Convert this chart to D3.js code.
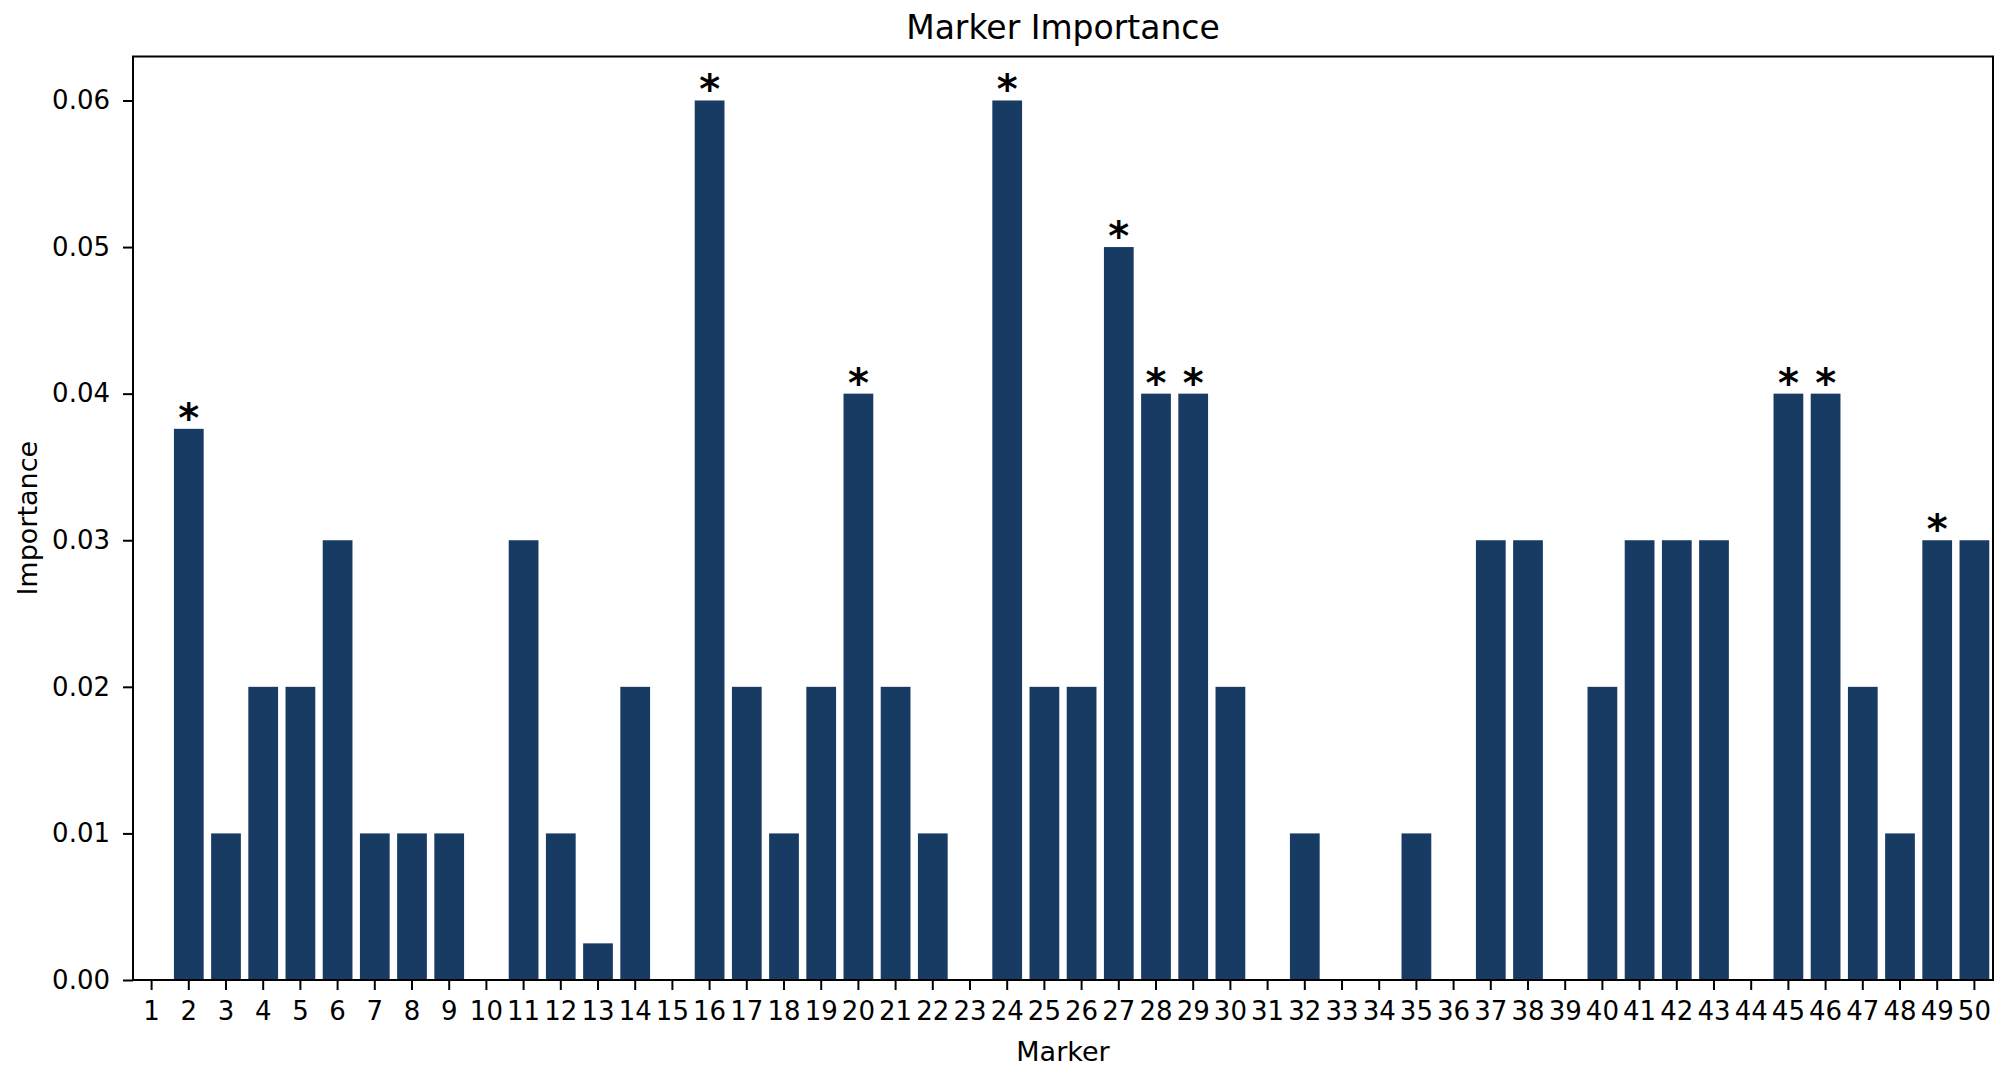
<html>
  <meta charset="utf-8" />
  <script src="https://d3js.org/d3.v7.min.js"></script>
  <style>
    body { margin: 0; background: #fff; }
    text { font-family: "DejaVu Sans", sans-serif; fill: #000; }
  </style>
  <body>
    <svg width="2008" height="1069" id="chart"></svg>
    <script>
      // marker ids 1..50
      const markers = d3.range(1, 51).map(String);
      const importance = [
        0, 0.0376, 0.01, 0.02, 0.02, 0.03, 0.01, 0.01, 0.01, 0,
        0.03, 0.01, 0.0025, 0.02, 0, 0.06, 0.02, 0.01, 0.02, 0.04,
        0.02, 0.01, 0, 0.06, 0.02, 0.02, 0.05, 0.04, 0.04, 0.02,
        0, 0.01, 0, 0, 0.01, 0, 0.03, 0.03, 0, 0.02,
        0.03, 0.03, 0.03, 0, 0.04, 0.04, 0.02, 0.01, 0.03, 0.03
      ];
      const significant = ["2", "16", "20", "24", "27", "28", "29", "45", "46", "49"];
      const yTicks = [0, 0.01, 0.02, 0.03, 0.04, 0.05, 0.06];

      const data = markers.map((m, i) => ({ marker: m, value: importance[i] }));

      const margin = { top: 56.5, right: 15, bottom: 89, left: 133 };
      const width = 2008 - margin.left - margin.right;
      const height = 1069 - margin.top - margin.bottom;

      const svg = d3.select("#chart");
      const chart = svg
        .append("g")
        .attr("transform", `translate(${margin.left}, ${margin.top})`);

      const xScale = d3
        .scaleBand()
        .domain(markers)
        .range([0, width])
        .paddingInner(0.2)
        .paddingOuter(0.1);

      const yScale = d3.scaleLinear().domain([0, 0.063]).range([height, 0]);

      chart
        .selectAll(".bar")
        .data(data)
        .enter()
        .append("rect")
        .attr("class", "bar")
        .attr("x", (d) => xScale(d.marker))
        .attr("y", (d) => yScale(d.value))
        .attr("width", xScale.bandwidth())
        .attr("height", (d) => yScale(0) - yScale(d.value))
        .attr("fill", "#173b63");

      // stars over significant markers
      chart
        .selectAll(".star")
        .data(data.filter((d) => significant.includes(d.marker)))
        .enter()
        .append("text")
        .attr("class", "star")
        .attr("x", (d) => xScale(d.marker) + xScale.bandwidth() / 2)
        .attr("y", (d) => yScale(d.value) + 3)
        .attr("text-anchor", "middle")
        .style("font-size", "40px")
        .style("font-weight", "bold")
        .text("*");

      const xAxis = chart
        .append("g")
        .attr("transform", `translate(0, ${height})`)
        .call(d3.axisBottom(xScale).tickSize(10).tickPadding(12));

      const yAxis = chart
        .append("g")
        .call(
          d3
            .axisLeft(yScale)
            .tickValues(yTicks)
            .tickFormat(d3.format(".2f"))
            .tickSize(10)
            .tickPadding(13)
        );

      [xAxis, yAxis].forEach((ax) => {
        ax.select(".domain").remove();
        ax.selectAll("line").attr("stroke", "#000").attr("stroke-width", 2);
        ax.selectAll("text").style("font-size", "26px").attr("fill", "#000");
      });

      // frame
      chart
        .append("rect")
        .attr("width", width)
        .attr("height", height)
        .attr("fill", "none")
        .attr("stroke", "#000")
        .attr("stroke-width", 2);

      svg
        .append("text")
        .attr("x", margin.left + width / 2)
        .attr("y", 39)
        .attr("text-anchor", "middle")
        .style("font-size", "33px")
        .text("Marker Importance");

      svg
        .append("text")
        .attr("x", margin.left + width / 2)
        .attr("y", 1061)
        .attr("text-anchor", "middle")
        .style("font-size", "27px")
        .text("Marker");

      svg
        .append("text")
        .attr("transform", `translate(37, ${margin.top + height / 2}) rotate(-90)`)
        .attr("text-anchor", "middle")
        .style("font-size", "27px")
        .text("Importance");
    </script>
  </body>
</html>
